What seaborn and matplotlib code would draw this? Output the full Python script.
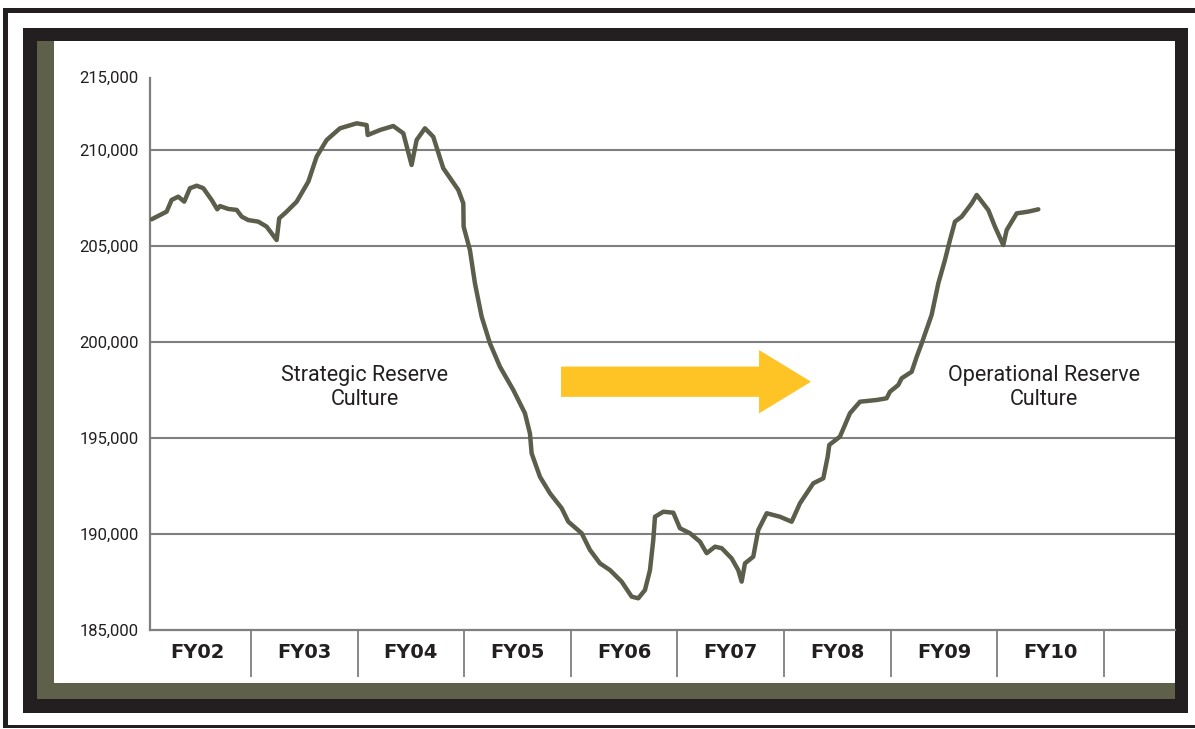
import numpy as np
import pandas as pd
import matplotlib
matplotlib.use('Agg')
import matplotlib.pyplot as plt
from matplotlib.patches import Rectangle, FancyArrow
import seaborn as sns

# fiscal-year position (0 = start of FY02) and end strength in thousands
fy_pos = [0.068, 0.209, 0.256, 0.318, 0.374, 0.428, 0.491, 0.553, 0.631, 0.684,
          0.709, 0.787, 0.866, 0.913, 0.975, 1.068, 1.147, 1.241, 1.265, 1.335,
          1.429, 1.538, 1.616, 1.710, 1.835, 1.992, 2.085, 2.095, 2.210, 2.335,
          2.429, 2.507, 2.554, 2.632, 2.710, 2.804, 2.945, 2.992, 2.995, 3.054,
          3.101, 3.164, 3.242, 3.336, 3.461, 3.570, 3.617, 3.633, 3.711, 3.805,
          3.915, 3.977, 4.102, 4.180, 4.274, 4.368, 4.477, 4.571, 4.633, 4.696,
          4.743, 4.774, 4.790, 4.868, 4.962, 5.024, 5.118, 5.212, 5.275, 5.353,
          5.416, 5.509, 5.571, 5.603, 5.634, 5.712, 5.759, 5.838, 5.962, 6.072,
          6.150, 6.275, 6.369, 6.410, 6.425, 6.525, 6.619, 6.713, 6.870, 6.963,
          6.994, 7.072, 7.104, 7.198, 7.245, 7.292, 7.385, 7.448, 7.510, 7.557,
          7.604, 7.667, 7.761, 7.808, 7.917, 7.979, 8.057, 8.089, 8.183, 8.292,
          8.386]
strength_k = [206.39, 206.79, 207.40, 207.57, 207.31, 208.01, 208.14, 208.01, 207.40, 206.91,
              207.08, 206.93, 206.88, 206.53, 206.35, 206.27, 206.01, 205.31, 206.44, 206.79,
              207.31, 208.35, 209.65, 210.52, 211.13, 211.39, 211.30, 210.78, 211.04, 211.25,
              210.87, 209.22, 210.52, 211.13, 210.69, 209.05, 207.92, 207.22, 206.01, 204.79,
              203.06, 201.32, 199.93, 198.71, 197.50, 196.29, 195.24, 194.20, 192.98, 192.12,
              191.34, 190.64, 190.04, 189.17, 188.47, 188.12, 187.52, 186.74, 186.65, 187.08,
              188.12, 189.69, 190.90, 191.16, 191.11, 190.30, 190.04, 189.60, 189.00, 189.34,
              189.26, 188.73, 188.12, 187.52, 188.47, 188.82, 190.21, 191.08, 190.90, 190.64,
              191.60, 192.64, 192.90, 194.03, 194.64, 195.07, 196.29, 196.89, 196.98, 197.07,
              197.41, 197.76, 198.11, 198.45, 199.23, 199.93, 201.41, 203.06, 204.27, 205.31,
              206.27, 206.53, 207.22, 207.66, 206.87, 206.01, 205.05, 205.83, 206.70, 206.79,
              206.91]

fiscal_years = ['FY02', 'FY03', 'FY04', 'FY05', 'FY06', 'FY07', 'FY08', 'FY09', 'FY10']
y_ticks = [185000, 190000, 195000, 200000, 205000, 210000]
y_top_label = '215,000'

df = pd.DataFrame({'fy': fy_pos, 'strength': np.array(strength_k) * 1000})

sns.set_style('white')
plt.rcParams['font.family'] = ['Roboto', 'DejaVu Sans']

W, H = 1195, 729
fig = plt.figure(figsize=(W / 100, H / 100), dpi=100)


def box(x0, y0, x1, y1, color):
    # pixel box (top-left origin) -> figure fraction rectangle
    fig.add_artist(Rectangle((x0 / W, 1 - y1 / H), (x1 - x0) / W, (y1 - y0) / H,
                             transform=fig.transFigure, color=color, lw=0, zorder=-5))


frame_black = '#231f20'
olive = '#5f604a'
box(3, 8, W, 13, frame_black)
box(3, 8, 8, 728, frame_black)
box(3, 725, W, 728, frame_black)
box(23, 28, 1188, 713, frame_black)
box(37, 41, 1175, 699, olive)
box(54, 41, 1175, 683, 'white')

ax = fig.add_axes([150 / W, 1 - 630 / H, (1175 - 150) / W, (630 - 78) / H])
ax.set_facecolor('none')

grid_col = '#7f7f80'
sns.lineplot(data=df, x='fy', y='strength', sort=False, estimator=None, ax=ax,
             color='#5c5e4b', lw=3.2, solid_joinstyle='round', solid_capstyle='round',
             zorder=3)

ax.set_xlim(0.053, 9.668)
ax.set_ylim(185000, 213750)
ax.set_yticks(y_ticks, [f'{v:,}' for v in y_ticks])
for v in y_ticks[1:]:
    ax.axhline(v, color=grid_col, lw=1.5, zorder=1)
ax.text(-11 / 1025, 1.0, y_top_label, transform=ax.transAxes, ha='right',
        va='center', fontsize=12, color=frame_black)

for s in ['top', 'right']:
    ax.spines[s].set_visible(False)
for s in ['left', 'bottom']:
    ax.spines[s].set_color(grid_col)
    ax.spines[s].set_linewidth(1.6)

ax.set_xticks(np.arange(len(fiscal_years)) + 0.5)
ax.set_xticklabels(fiscal_years, fontsize=14, fontweight='bold',
                   family='DejaVu Sans', color=frame_black)
ax.tick_params(axis='x', length=0, pad=9)
ax.tick_params(axis='y', length=0, pad=8, labelsize=12, labelcolor=frame_black)
ax.set_xlabel('')
ax.set_ylabel('')

# separators of the fiscal-year cells below the axis
cell_depth = (677 - 630) / 552
ax.vlines(np.arange(1, len(fiscal_years) + 1), -cell_depth, 0, color=grid_col, lw=1.3,
          transform=ax.get_xaxis_transform(), clip_on=False)

ax.text(0.2095, 0.44, 'Strategic Reserve\nCulture', transform=ax.transAxes,
        ha='center', va='center', fontsize=15.5, linespacing=1.2, color=frame_black)
ax.text(0.872, 0.44, 'Operational Reserve\nCulture', transform=ax.transAxes,
        ha='center', va='center', fontsize=15.5, linespacing=1.2, color=frame_black)

ax.add_patch(FancyArrow(0.401, 0.4498, 0.2439, 0, width=0.0549, head_width=0.1147,
                        head_length=0.0507, length_includes_head=True,
                        transform=ax.transAxes, color='#fec325', lw=0, zorder=2))

plt.savefig('out.png', dpi=100)
plt.close()
